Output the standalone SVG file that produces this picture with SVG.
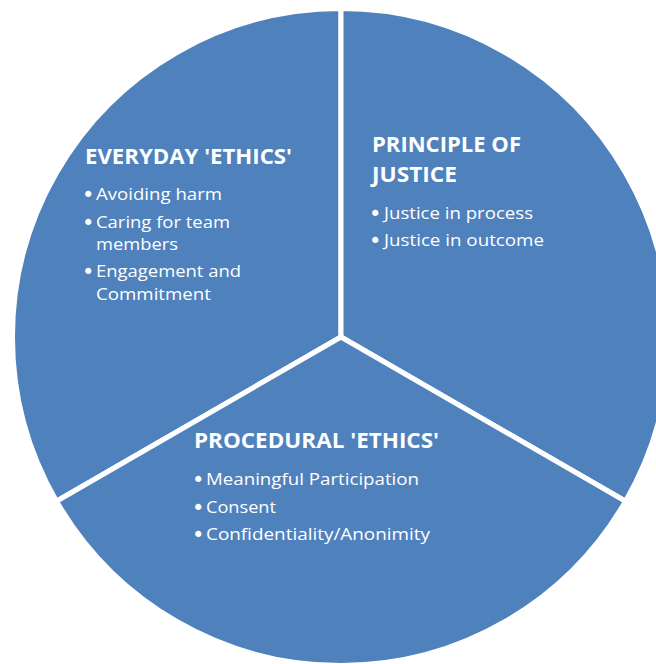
<svg xmlns="http://www.w3.org/2000/svg" width="656" height="664" viewBox="0 0 656 664">
  <style>
    .wedge { fill: #4F81BD; stroke: #FFFFFF; stroke-width: 5; stroke-linejoin: miter; }
    .title { font-family: "Open Sans", "Liberation Sans", sans-serif; font-weight: bold; font-size: 21px; fill: #FFFFFF; }
    .item { font-family: "Open Sans", "Liberation Sans", sans-serif; font-size: 17px; fill: #FFFFFF; }
    .dot { font-family: "DejaVu Sans", sans-serif; font-size: 21px; fill: #FFFFFF; }
  </style>
  <rect width="656" height="664" fill="#FFFFFF"/>
  <!-- three 120-degree sectors, centre (341,337), radius 328.5 -->
  <g id="everyday">
    <path class="wedge" d="M341,337 L341,8.5 A328.5,328.5 0 0 0 56.5,501.25 Z"/>
    <text class="title" x="85" y="164" textLength="207" lengthAdjust="spacingAndGlyphs">EVERYDAY 'ETHICS'</text>
    <text class="dot" x="82" y="202">•</text>
    <text class="item" x="96" y="200" textLength="126" lengthAdjust="spacingAndGlyphs">Avoiding harm</text>
    <text class="dot" x="82" y="230">•</text>
    <text class="item" x="96" y="228" textLength="134" lengthAdjust="spacingAndGlyphs">Caring for team</text>
    <text class="item" x="96" y="250" textLength="82" lengthAdjust="spacingAndGlyphs">members</text>
    <text class="dot" x="82" y="279">•</text>
    <text class="item" x="96" y="277" textLength="145" lengthAdjust="spacingAndGlyphs">Engagement and</text>
    <text class="item" x="96" y="300" textLength="115" lengthAdjust="spacingAndGlyphs">Commitment</text>
  </g>
  <g id="justice">
    <path class="wedge" d="M341,337 L625.5,501.25 A328.5,328.5 0 0 0 341,8.5 Z"/>
    <text class="title" x="372" y="152" textLength="149" lengthAdjust="spacingAndGlyphs">PRINCIPLE OF</text>
    <text class="title" x="372" y="182" textLength="85" lengthAdjust="spacingAndGlyphs">JUSTICE</text>
    <text class="dot" x="369" y="221">•</text>
    <text class="item" x="384" y="219" textLength="149" lengthAdjust="spacingAndGlyphs">Justice in process</text>
    <text class="dot" x="369" y="248">•</text>
    <text class="item" x="384" y="246" textLength="160" lengthAdjust="spacingAndGlyphs">Justice in outcome</text>
  </g>
  <g id="procedural">
    <path class="wedge" d="M341,337 L56.5,501.25 A328.5,328.5 0 0 0 625.5,501.25 Z"/>
    <text class="title" x="194" y="448" textLength="245" lengthAdjust="spacingAndGlyphs">PROCEDURAL 'ETHICS'</text>
    <text class="dot" x="192" y="487">•</text>
    <text class="item" x="206" y="485" textLength="213" lengthAdjust="spacingAndGlyphs">Meaningful Participation</text>
    <text class="dot" x="192" y="515">•</text>
    <text class="item" x="206" y="513" textLength="70" lengthAdjust="spacingAndGlyphs">Consent</text>
    <text class="dot" x="192" y="542">•</text>
    <text class="item" x="206" y="540" textLength="224" lengthAdjust="spacingAndGlyphs">Confidentiality/Anonimity</text>
  </g>
</svg>
